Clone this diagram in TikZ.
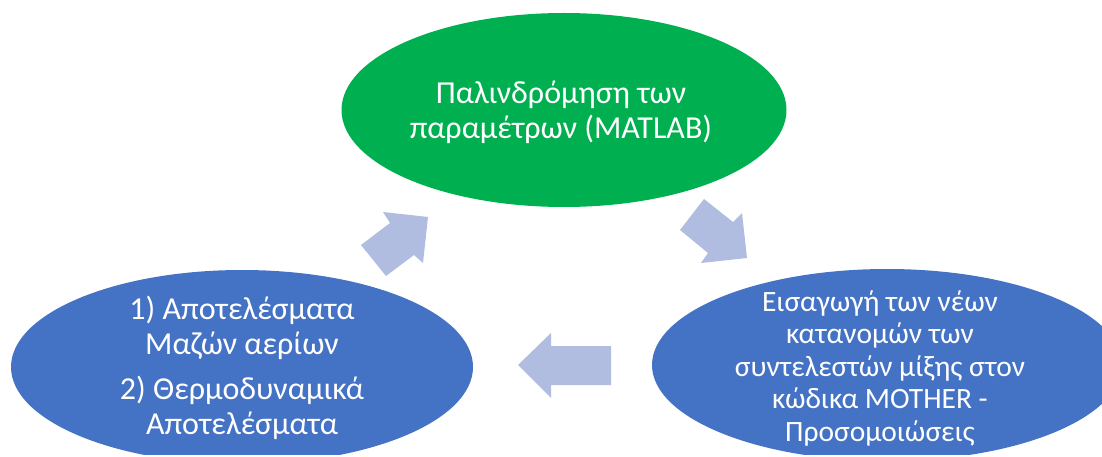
\documentclass[tikz,border=0pt]{standalone}
\usepackage{fontspec}
\setmainfont{Carlito}
\usetikzlibrary{shapes.geometric}
\definecolor{cgreen}{HTML}{00B050}
\definecolor{cblue}{HTML}{4472C4}
\definecolor{carrow}{HTML}{B0BDE0}
\newcommand\mytightlines{\lineskiplimit=-50pt\lineskip=0pt\relax}
\newcommand\mybigfont{\fontsize{32}{35}\selectfont\mytightlines}
\newcommand\mysmallfont{\fontsize{29.5}{32.5}\selectfont\mytightlines}
\tikzset{
  blob/.style={ellipse, inner sep=0pt, draw=none},
  label text/.style={inner sep=0pt, text=white, align=center, font=\mybigfont},
  small text/.style={label text, font=\mysmallfont},
  blockarrow/.style={fill=carrow, draw=none}
}
\begin{document}
\begin{tikzpicture}[x=1pt, y=-1pt]
\useasboundingbox (0,0) rectangle (1102,457);
\begin{scope}
\clip (0,0) rectangle (1102,454);
\node[blob, fill=cgreen, minimum width=445pt, minimum height=194pt] (top) at (564,110) {};
\node[blob, fill=cblue, minimum width=462pt, minimum height=194pt] (left) at (242,367) {};
\node[blob, fill=cblue, minimum width=470pt, minimum height=192pt] (right) at (887,365) {};
\end{scope}
\node[label text] (toptext) at (561,112) {Παλινδρόμηση των\\παραμέτρων (MATLAB)};
\node[label text] (lefttext) at (242,368) {1) Αποτελέσματα\\Μαζών αερίων\\[10pt]2) Θερμοδυναμικά\\Αποτελέσματα};
\node[small text] (righttext) at (880,368) {Εισαγωγή των νέων\\κατανομών των\\συντελεστών μίξης στον\\κώδικα MOTHER -\\Προσομοιώσεις};
% block arrows
\fill[blockarrow] (428,217) -- (383,212) -- (390,223) -- (361,245) -- (386,276) -- (414,255) -- (423,263) -- cycle;
\fill[blockarrow] (747,258) -- (701,263) -- (708,253) -- (680,230) -- (704,199) -- (733,222) -- (742,213) -- cycle;
\fill[blockarrow] (518,365) -- (551,333) -- (551,346) -- (611,346) -- (611,385) -- (551,385) -- (551,398) -- cycle;
\end{tikzpicture}
\end{document}
